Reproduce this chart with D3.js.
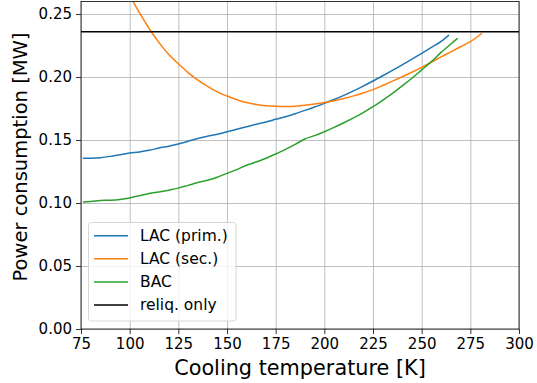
<!DOCTYPE html>
<html>
<head>
<meta charset="utf-8">
<script src="https://cdn.jsdelivr.net/npm/d3@7"></script>
<style>
body { margin: 0; background: #fff; }
text { font-family: "DejaVu Sans", sans-serif; }
</style>
</head>
<body>
<script>
// data
var tempPrim = [76, 80, 85, 90, 95, 100, 105, 110, 115, 120, 125, 130, 135, 140, 145, 150, 155, 160, 165, 170, 175, 180, 185, 190, 195, 200, 205, 210, 215, 220, 225, 230, 235, 240, 245, 250, 255, 260, 264];
var lacPrim = [0.1355, 0.1356, 0.1360, 0.1370, 0.1383, 0.1396, 0.1405, 0.1418, 0.1436, 0.1451, 0.1468, 0.1490, 0.1512, 0.1530, 0.1546, 0.1565, 0.1585, 0.1605, 0.1625, 0.1643, 0.1664, 0.1685, 0.1709, 0.1735, 0.1762, 0.1791, 0.1821, 0.1854, 0.1890, 0.1928, 0.1968, 0.2010, 0.2053, 0.2097, 0.2142, 0.2188, 0.2235, 0.2283, 0.2333];

var tempSec = [95, 100, 105, 110, 115, 120, 125, 130, 135, 140, 145, 150, 155, 160, 165, 170, 175, 180, 185, 190, 195, 200, 205, 210, 215, 220, 225, 230, 235, 240, 245, 250, 255, 260, 265, 270, 275, 281];
var lacSec = [0.2800, 0.2650, 0.2510, 0.2385, 0.2275, 0.2180, 0.2105, 0.2035, 0.1975, 0.1925, 0.1882, 0.1849, 0.1820, 0.1798, 0.1782, 0.1772, 0.1767, 0.1765, 0.1768, 0.1775, 0.1785, 0.1797, 0.1812, 0.1830, 0.1850, 0.1873, 0.1900, 0.1933, 0.1967, 0.2002, 0.2038, 0.2077, 0.2118, 0.2160, 0.2200, 0.2240, 0.2280, 0.2347];

var tempBac = [76, 80, 85, 90, 95, 100, 105, 110, 115, 120, 125, 130, 135, 140, 145, 150, 155, 160, 165, 170, 175, 180, 185, 190, 195, 200, 205, 210, 215, 220, 225, 230, 235, 240, 245, 250, 255, 260, 265, 268.5];
var bac = [0.1008, 0.1012, 0.1020, 0.1022, 0.1028, 0.1040, 0.1058, 0.1075, 0.1088, 0.1102, 0.1118, 0.1140, 0.1162, 0.1180, 0.1205, 0.1235, 0.1265, 0.1300, 0.1325, 0.1355, 0.1389, 0.1425, 0.1465, 0.1508, 0.1535, 0.1566, 0.1600, 0.1637, 0.1676, 0.1718, 0.1764, 0.1816, 0.1870, 0.1930, 0.1990, 0.2056, 0.2122, 0.2195, 0.2262, 0.2307];

var reliqOnly = 0.236;

var xTicks = [75, 100, 125, 150, 175, 200, 225, 250, 275, 300];
var yTicks = [0, 0.05, 0.10, 0.15, 0.20, 0.25];

var series = [
    {name: "LAC (prim.)", color: "#1f77b4", t: tempPrim, v: lacPrim},
    {name: "LAC (sec.)", color: "#ff7f0e", t: tempSec, v: lacSec},
    {name: "BAC", color: "#2ca02c", t: tempBac, v: bac},
    {name: "reliq. only", color: "#000000"}
];

// dimensions
var width = 537;
var height = 383;
var plotLeft = 81, plotRight = 519, plotTop = 1.4, plotBottom = 329;

var svg = d3.select("body")
    .append("svg")
    .attr("width", width)
    .attr("height", height);

var x = d3.scaleLinear().domain([75, 300]).range([plotLeft, plotRight]);
var y = d3.scaleLinear().domain([0, 0.26]).range([plotBottom, plotTop]);

// grid
svg.append("g")
    .attr("transform", "translate(0," + plotBottom + ")")
    .call(d3.axisBottom(x).tickValues(xTicks).tickSize(-(plotBottom - plotTop)).tickFormat(""))
    .call(function(g) {
        g.select(".domain").remove();
        g.selectAll("line").attr("stroke", "#b0b0b0").attr("stroke-width", 0.8);
    });
svg.append("g")
    .attr("transform", "translate(" + plotLeft + ",0)")
    .call(d3.axisLeft(y).tickValues(yTicks).tickSize(-(plotRight - plotLeft)).tickFormat(""))
    .call(function(g) {
        g.select(".domain").remove();
        g.selectAll("line").attr("stroke", "#b0b0b0").attr("stroke-width", 0.8);
    });

svg.append("clipPath")
    .attr("id", "plot")
    .append("rect")
    .attr("x", plotLeft)
    .attr("y", plotTop)
    .attr("width", plotRight - plotLeft)
    .attr("height", plotBottom - plotTop);

var line = d3.line()
    .x(function(d) { return x(d[0]); })
    .y(function(d) { return y(d[1]); })
    .curve(d3.curveMonotoneX);

var plot = svg.append("g").attr("clip-path", "url(#plot)");

series.slice(0, 3).forEach(function(s) {
    plot.append("path")
        .datum(d3.zip(s.t, s.v))
        .attr("fill", "none")
        .attr("stroke", s.color)
        .attr("stroke-width", 1.5)
        .attr("d", line);
});

plot.append("line")
    .attr("x1", plotLeft)
    .attr("x2", plotRight)
    .attr("y1", y(reliqOnly))
    .attr("y2", y(reliqOnly))
    .attr("stroke", "#000")
    .attr("stroke-width", 1.5);

// axes
svg.append("g")
    .attr("transform", "translate(0," + plotBottom + ")")
    .call(d3.axisBottom(x).tickValues(xTicks).tickSize(5).tickPadding(4).tickFormat(d3.format("d")))
    .call(function(g) {
        g.select(".domain").remove();
        g.selectAll("line").attr("stroke-width", 0.8);
        g.selectAll("text").style("font-size", "15px").attr("fill", "#000")
            .style("font-family", "DejaVu Sans");
    });
svg.append("g")
    .attr("transform", "translate(" + plotLeft + ",0)")
    .call(d3.axisLeft(y).tickValues(yTicks).tickSize(5).tickPadding(4).tickFormat(d3.format(".2f")))
    .call(function(g) {
        g.select(".domain").remove();
        g.selectAll("line").attr("stroke-width", 0.8);
        g.selectAll("text").style("font-size", "15px").attr("fill", "#000")
            .style("font-family", "DejaVu Sans");
    });

// frame
svg.append("rect")
    .attr("x", plotLeft)
    .attr("y", plotTop)
    .attr("width", plotRight - plotLeft)
    .attr("height", plotBottom - plotTop)
    .attr("fill", "none")
    .attr("stroke", "#000")
    .attr("stroke-width", 0.8);

// labels
svg.append("text")
    .attr("x", (plotLeft + plotRight) / 2)
    .attr("y", 375)
    .attr("text-anchor", "middle")
    .style("font-size", "20.8px")
    .text("Cooling temperature [K]");

svg.append("text")
    .attr("transform", "translate(27," + 157 + ") rotate(-90)")
    .attr("text-anchor", "middle")
    .style("font-size", "19.5px")
    .text("Power consumption [MW]");

// legend
var legend = svg.append("g");
legend.append("rect")
    .attr("x", 88.5)
    .attr("y", 222.5)
    .attr("width", 147.5)
    .attr("height", 98.5)
    .attr("rx", 3)
    .attr("fill", "#fff")
    .attr("fill-opacity", 0.8)
    .attr("stroke", "#cccccc")
    .attr("stroke-width", 0.8);

series.forEach(function(s, i) {
    var ly = 235.7 + i * 23.1;
    legend.append("line")
        .attr("x1", 94)
        .attr("x2", 128)
        .attr("y1", ly)
        .attr("y2", ly)
        .attr("stroke", s.color)
        .attr("stroke-width", 1.5);
    legend.append("text")
        .attr("x", 140)
        .attr("y", ly)
        .attr("dy", "0.35em")
        .style("font-size", "15.5px")
        .text(s.name);
});
</script>
</body>
</html>
